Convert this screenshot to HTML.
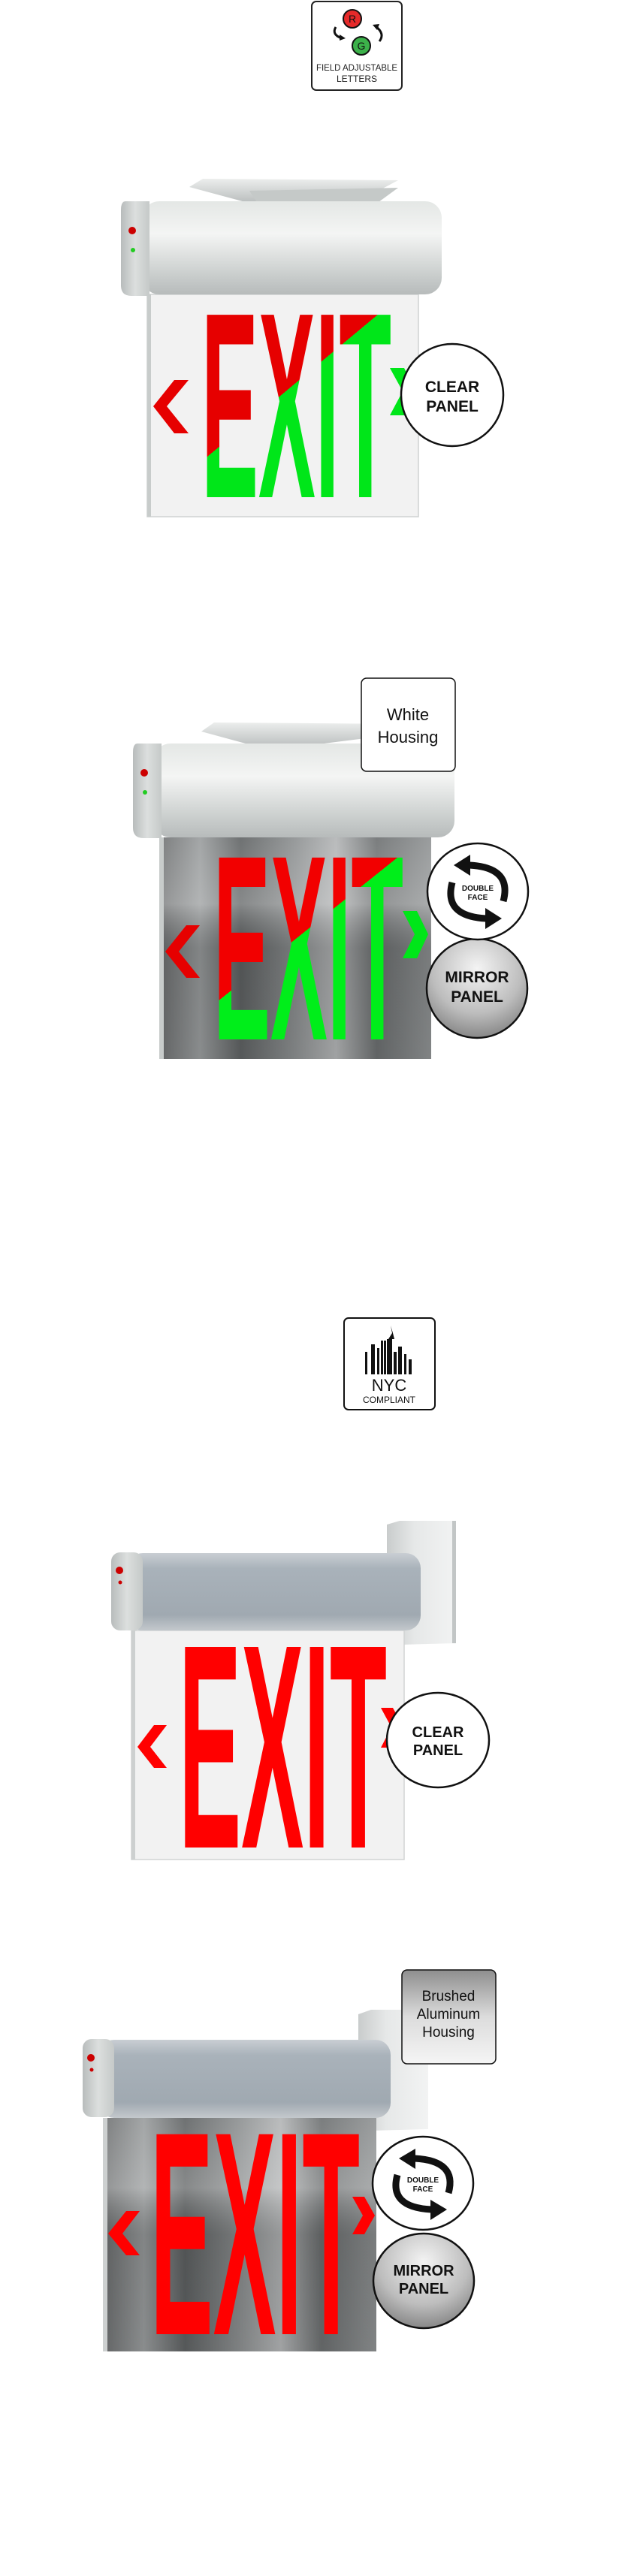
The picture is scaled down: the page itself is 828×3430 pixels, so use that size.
<!DOCTYPE html>
<html><head><meta charset="utf-8"><style>
html,body{margin:0;padding:0;background:#fff}
svg{display:block}
.lbl{font-family:"Liberation Sans",sans-serif;font-weight:bold;fill:#111}
</style></head><body>
<svg width="828" height="3430" viewBox="0 0 828 3430" xmlns="http://www.w3.org/2000/svg">
<defs>
<linearGradient id="hw" x1="0" y1="0" x2="0" y2="1">
<stop offset="0" stop-color="#e4e7e5"/><stop offset=".35" stop-color="#f4f5f4"/><stop offset=".8" stop-color="#c9cdcc"/><stop offset="1" stop-color="#b7bbbb"/></linearGradient>
<linearGradient id="hg" x1="0" y1="0" x2="0" y2="1">
<stop offset="0" stop-color="#c9ced3"/><stop offset=".2" stop-color="#a9b2ba"/><stop offset=".8" stop-color="#a0a9b1"/><stop offset="1" stop-color="#c3c8cc"/></linearGradient>
<linearGradient id="cap" x1="0" y1="0" x2="1" y2="0">
<stop offset="0" stop-color="#b8bcbc"/><stop offset=".5" stop-color="#dcdfde"/><stop offset="1" stop-color="#c5c9c8"/></linearGradient>
<linearGradient id="br" x1="0" y1="0" x2="0" y2="1">
<stop offset="0" stop-color="#eceeed"/><stop offset="1" stop-color="#b3b7b7"/></linearGradient>
<linearGradient id="wb" x1="0" y1="0" x2="1" y2="0">
<stop offset="0" stop-color="#c9cccc"/><stop offset=".4" stop-color="#e6e8e8"/><stop offset="1" stop-color="#f2f3f3"/></linearGradient>
<linearGradient id="mir" x1="0" y1="0" x2="1" y2="0">
<stop offset="0" stop-color="#6d6f70"/><stop offset=".15" stop-color="#999c9d"/><stop offset=".3" stop-color="#5f6263"/><stop offset=".5" stop-color="#8c8f90"/><stop offset=".65" stop-color="#b2b4b5"/><stop offset=".8" stop-color="#6c6f70"/><stop offset="1" stop-color="#8f9293"/></linearGradient>
<linearGradient id="mirv" x1="0" y1="0" x2="0" y2="1">
<stop offset="0" stop-color="#fff" stop-opacity=".1"/><stop offset=".3" stop-color="#fff" stop-opacity=".25"/><stop offset=".5" stop-color="#000" stop-opacity=".15"/><stop offset="1" stop-color="#000" stop-opacity=".1"/></linearGradient>
<radialGradient id="mc" cx=".5" cy=".3" r=".75">
<stop offset="0" stop-color="#f4f4f4"/><stop offset=".6" stop-color="#bdbdbd"/><stop offset="1" stop-color="#7d7d7d"/></radialGradient>
<linearGradient id="bab" x1="0" y1="0" x2="0" y2="1">
<stop offset="0" stop-color="#8e8e8e"/><stop offset=".5" stop-color="#dcdcdc"/><stop offset="1" stop-color="#f5f5f5"/></linearGradient>
<linearGradient id="rg1" gradientUnits="userSpaceOnUse" x1="374" y1="506" x2="394" y2="530">
<stop offset=".5" stop-color="#e60000"/><stop offset=".5" stop-color="#00e619"/></linearGradient>
<linearGradient id="rg2" gradientUnits="userSpaceOnUse" x1="392" y1="1231" x2="412" y2="1256">
<stop offset=".5" stop-color="#f20000"/><stop offset=".5" stop-color="#00ee1a"/></linearGradient>
</defs>

<!-- Badge 1 -->
<rect x="415" y="2" width="120" height="118" rx="6" fill="#fff" stroke="#222" stroke-width="2"/>
<circle cx="469" cy="25" r="12" fill="#e62a2a" stroke="#111" stroke-width="2"/>
<text x="469" y="30" text-anchor="middle" font-family="Liberation Sans,sans-serif" font-size="14" fill="#111">R</text>
<circle cx="481" cy="61" r="12" fill="#3cb14a" stroke="#111" stroke-width="2"/>
<text x="481" y="66" text-anchor="middle" font-family="Liberation Sans,sans-serif" font-size="14" fill="#111">G</text>
<path d="M447 36 q-6 10 8 15" fill="none" stroke="#111" stroke-width="3"/><path d="M452 46 l8 5 -8 3z" fill="#111"/>
<path d="M505 55 q8 -10 -5 -20" fill="none" stroke="#111" stroke-width="3"/><path d="M496 33 l9 -1 -3 8z" fill="#111"/>
<text x="475" y="94" text-anchor="middle" font-family="Liberation Sans,sans-serif" font-size="12" textLength="108" lengthAdjust="spacingAndGlyphs" fill="#222">FIELD ADJUSTABLE</text>
<text x="475" y="109" text-anchor="middle" font-family="Liberation Sans,sans-serif" font-size="12" fill="#222">LETTERS</text>

<!-- Sign 1 -->
<path d="M252 249 L270 238 L530 240 L500 256 L345 274 Z" fill="url(#br)"/>
<path d="M332 254 L530 250 L500 272 L345 274Z" fill="#c5c9c8"/>
<rect x="196" y="392" width="361" height="296" fill="#f2f2f2" stroke="#cfd2d2" stroke-width="1.5"/>
<path d="M196 392 v296 h5 v-296z" fill="#c8cccb"/>
<rect x="190" y="268" width="398" height="124" rx="22" fill="url(#hw)"/>
<path d="M167 268 h32 v126 h-24 q-14 0 -14 -14 v-100 q0 -12 6 -12z" fill="url(#cap)"/>
<circle cx="176" cy="307" r="5" fill="#c00"/><circle cx="177" cy="333" r="3" fill="#2c2"/>
<text x="268" y="662" class="lbl" font-size="353" textLength="253" lengthAdjust="spacingAndGlyphs" style="fill:url(#rg1)">EXIT</text>
<path d="M251 506 L222 541 L251 577 L232 577 L204 541 L232 506Z" fill="#e60000"/>
<path d="M519 490 L538 490 L554 521 L538 553 L519 553 L536 521Z" fill="#00e619"/>
<ellipse cx="602" cy="526" rx="68" ry="68" fill="#fff" stroke="#111" stroke-width="2.5"/>
<text x="602" y="522" text-anchor="middle" class="lbl" font-size="21">CLEAR</text>
<text x="602" y="548" text-anchor="middle" class="lbl" font-size="21">PANEL</text>

<!-- Sign 2 -->
<path d="M268 974 L285 962 L540 964 L510 980 L360 999 Z" fill="url(#br)"/>
<rect x="212" y="1115" width="362" height="295" fill="url(#mir)"/>
<rect x="212" y="1115" width="362" height="295" fill="url(#mirv)"/>
<path d="M212 1115 v295 h6 v-295z" fill="#c8cccb"/>
<rect x="205" y="990" width="400" height="125" rx="22" fill="url(#hw)"/>
<path d="M183 990 h32 v126 h-24 q-14 0 -14 -14 v-100 q0 -12 6 -12z" fill="url(#cap)"/>
<circle cx="192" cy="1029" r="5" fill="#c00"/><circle cx="193" cy="1055" r="3" fill="#2c2"/>
<rect x="481" y="903" width="125" height="124" rx="7" fill="#fff" stroke="#111" stroke-width="1.5"/>
<text x="543" y="959" text-anchor="middle" font-family="Liberation Sans,sans-serif" font-size="22" fill="#111">White</text>
<text x="543" y="989" text-anchor="middle" font-family="Liberation Sans,sans-serif" font-size="22" fill="#111">Housing</text>
<text x="284" y="1384" class="lbl" font-size="352" textLength="253" lengthAdjust="spacingAndGlyphs" style="fill:url(#rg2)">EXIT</text>
<path d="M266 1232 L238 1267 L266 1302 L248 1302 L220 1267 L248 1232Z" fill="#e60000"/>
<path d="M536 1213 L555 1213 L570 1244 L555 1276 L536 1276 L552 1244Z" fill="#00e619"/>
<ellipse cx="635" cy="1316" rx="67" ry="66" fill="url(#mc)" stroke="#111" stroke-width="2.5"/>
<text x="635" y="1308" text-anchor="middle" class="lbl" font-size="21">MIRROR</text>
<text x="635" y="1334" text-anchor="middle" class="lbl" font-size="21">PANEL</text>
<ellipse cx="636" cy="1187" rx="67" ry="64" fill="#fff" stroke="#111" stroke-width="2.5"/>
<path d="M670 1200 q12 -45 -45 -48" fill="none" stroke="#111" stroke-width="9"/><path d="M626 1138 l-22 14 22 14z" fill="#111"/>
<path d="M602 1175 q-12 45 45 48" fill="none" stroke="#111" stroke-width="9"/><path d="M646 1209 l22 14 -22 14z" fill="#111"/>
<text x="636" y="1186" text-anchor="middle" class="lbl" font-size="10">DOUBLE</text>
<text x="636" y="1198" text-anchor="middle" class="lbl" font-size="10">FACE</text>

<!-- NYC badge -->
<rect x="458" y="1755" width="121" height="122" rx="6" fill="#fff" stroke="#111" stroke-width="2"/>
<g fill="#111">
<rect x="486" y="1800" width="3" height="30"/><rect x="494" y="1790" width="5" height="40"/><rect x="502" y="1795" width="3" height="35"/>
<rect x="507" y="1785" width="3" height="45"/><rect x="511" y="1785" width="3" height="45"/><rect x="515" y="1783" width="7" height="47"/>
<path d="M517 1783 l5 -8 -2 -10 3 10 2 8z"/><rect x="524" y="1800" width="4" height="30"/><rect x="530" y="1793" width="5" height="37"/>
<rect x="538" y="1803" width="3" height="27"/><rect x="544" y="1810" width="4" height="20"/>
</g>
<text x="518" y="1852" text-anchor="middle" font-family="Liberation Sans,sans-serif" font-size="22" fill="#111">NYC</text>
<text x="518" y="1868" text-anchor="middle" font-family="Liberation Sans,sans-serif" font-size="12" fill="#111">COMPLIANT</text>

<!-- Sign 3 -->
<path d="M515 2030 L532 2025 L607 2025 L607 2188 L532 2190 L515 2185Z" fill="url(#wb)"/>
<path d="M602 2025 h5 v163 h-5z" fill="#c2c6c6"/>
<rect x="175" y="2171" width="363" height="305" fill="#f2f2f2" stroke="#d2d4d4" stroke-width="1.5"/>
<path d="M175 2171 v305 h5 v-305z" fill="#cdd0d0"/>
<rect x="170" y="2068" width="390" height="103" rx="20" fill="url(#hg)"/>
<rect x="148" y="2067" width="42" height="104" rx="12" fill="url(#cap)"/>
<circle cx="159" cy="2091" r="5" fill="#c00"/><circle cx="160" cy="2107" r="2.5" fill="#c00"/>
<text x="238" y="2460" class="lbl" font-size="388" textLength="277" lengthAdjust="spacingAndGlyphs" style="fill:#ff0000">EXIT</text>
<path d="M222 2297 L200 2326 L222 2354 L205 2354 L183 2326 L205 2297Z" fill="#f00"/>
<path d="M507 2274 L523 2274 L537 2300 L523 2327 L507 2327 L521 2300Z" fill="#f00"/>
<ellipse cx="583" cy="2317" rx="68" ry="63" fill="#fff" stroke="#111" stroke-width="2.5"/>
<text x="583" y="2313" text-anchor="middle" class="lbl" font-size="20">CLEAR</text>
<text x="583" y="2337" text-anchor="middle" class="lbl" font-size="20">PANEL</text>

<!-- Sign 4 -->
<path d="M477 2682 L494 2676 L570 2676 L570 2835 L494 2837 L477 2832Z" fill="url(#wb)"/>
<rect x="137" y="2820" width="364" height="311" fill="url(#mir)"/>
<rect x="137" y="2820" width="364" height="311" fill="url(#mirv)"/>
<path d="M137 2820 v311 h6 v-311z" fill="#cdd0d0"/>
<rect x="132" y="2716" width="388" height="104" rx="20" fill="url(#hg)"/>
<rect x="110" y="2715" width="42" height="104" rx="12" fill="url(#cap)"/>
<circle cx="121" cy="2740" r="5" fill="#c00"/><circle cx="122" cy="2756" r="2.5" fill="#c00"/>
<rect x="535" y="2623" width="125" height="125" rx="7" fill="url(#bab)" stroke="#111" stroke-width="1.5"/>
<text x="597" y="2664" text-anchor="middle" font-family="Liberation Sans,sans-serif" font-size="19" fill="#111">Brushed</text>
<text x="597" y="2688" text-anchor="middle" font-family="Liberation Sans,sans-serif" font-size="19" fill="#111">Aluminum</text>
<text x="597" y="2712" text-anchor="middle" font-family="Liberation Sans,sans-serif" font-size="19" fill="#111">Housing</text>
<text x="200" y="3108" class="lbl" font-size="387" textLength="279" lengthAdjust="spacingAndGlyphs" style="fill:#ff0000">EXIT</text>
<path d="M186 2944 L163 2974 L186 3003 L168 3003 L144 2974 L168 2944Z" fill="#f00"/>
<path d="M469 2925 L485 2925 L499 2950 L485 2975 L469 2975 L483 2950Z" fill="#f00"/>
<ellipse cx="564" cy="3037" rx="67" ry="63" fill="url(#mc)" stroke="#111" stroke-width="2.5"/>
<text x="564" y="3030" text-anchor="middle" class="lbl" font-size="20">MIRROR</text>
<text x="564" y="3054" text-anchor="middle" class="lbl" font-size="20">PANEL</text>
<ellipse cx="563" cy="2907" rx="67" ry="62" fill="#fff" stroke="#111" stroke-width="2.5"/>
<path d="M597 2920 q12 -43 -45 -46" fill="none" stroke="#111" stroke-width="9"/><path d="M553 2861 l-22 13 22 14z" fill="#111"/>
<path d="M529 2896 q-12 43 45 46" fill="none" stroke="#111" stroke-width="9"/><path d="M573 2929 l22 13 -22 14z" fill="#111"/>
<text x="563" y="2906" text-anchor="middle" class="lbl" font-size="10">DOUBLE</text>
<text x="563" y="2918" text-anchor="middle" class="lbl" font-size="10">FACE</text>
</svg>
</body></html>
